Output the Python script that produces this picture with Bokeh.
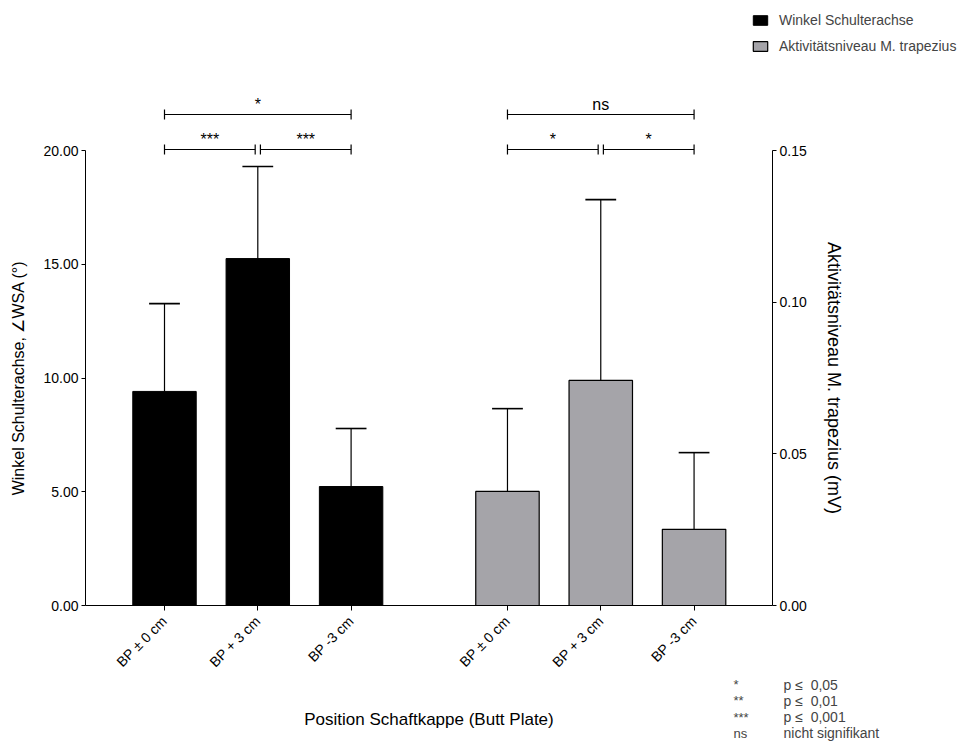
from bokeh.plotting import figure
from bokeh.models import (Range1d, LinearAxis, FixedTicker, NumeralTickFormatter,
                          Legend, LegendItem, Label, ColumnDataSource)
from bokeh.core.properties import value
from bokeh.embed import file_html
from bokeh.resources import INLINE

# ---------------- data ----------------
categories = ["BP \u00b1 0 cm", "BP + 3 cm", "BP -3 cm"]
wsa_mean = [9.41, 15.25, 5.23]          # Winkel Schulterachse (deg)
wsa_sd = [3.86, 4.05, 2.55]
trap_mean = [0.0376, 0.0742, 0.0251]    # Aktivitaetsniveau M. trapezius (mV)
trap_sd = [0.0273, 0.0596, 0.0253]
left_ticks = [0, 5, 10, 15, 20]
right_ticks = [0, 0.05, 0.10, 0.15]
sig_wsa = ["***", "***", "*"]           # (0-1), (1-2), (0-2)
sig_trap = ["*", "*", "ns"]
note_symbols = ["*", "**", "***", "ns"]
note_texts = ["p \u2264\u00a0 0,05", "p \u2264\u00a0 0,01", "p \u2264\u00a0 0,001", "nicht signifikant"]
legend_labels = ["Winkel Schulterachse", "Aktivit\u00e4tsniveau M. trapezius"]

FONT = "Liberation Sans"
n = len(categories)

# ---------------- layout (pixels) ----------------
W, H = 958, 745
PX_X = 93.3          # pixels per x unit
X0_PX = 164          # pixel of first bar centre
PX_Y = 455 / 20.0    # pixels per left-axis unit
Y0_PX = 605          # pixel of y = 0
AX_L_PX, AX_R_PX = 85, 772
LEFT_MAX, RIGHT_MAX = 20.0, 0.15
R_SCALE = RIGHT_MAX / LEFT_MAX


def px_x(px):
    return (px - X0_PX) / PX_X


def px_dy(py):
    return (Y0_PX - py) / PX_Y


GROUP_OFFSET = round(px_x(507), 3)
x1 = [i for i in range(n)]
x2 = [round(i + GROUP_OFFSET, 3) for i in range(n)]

p = figure(width=W, height=H, output_backend="svg", toolbar_location=None,
           x_range=Range1d(px_x(0), px_x(W)),
           y_range=Range1d(px_dy(H), px_dy(0)),
           min_border=0, min_border_left=0, min_border_right=0,
           min_border_top=0, min_border_bottom=0)
p.extra_y_ranges = {"right": Range1d(px_dy(H) * R_SCALE, px_dy(0) * R_SCALE)}
p.outline_line_color = None
p.xgrid.visible = False
p.ygrid.visible = False
p.background_fill_color = "white"
p.border_fill_color = "white"

BW = 0.68
CAP = 0.165
src1 = ColumnDataSource(dict(x=x1, top=wsa_mean,
                             hi=[m + s for m, s in zip(wsa_mean, wsa_sd)]))
src2 = ColumnDataSource(dict(x=x2, top=trap_mean,
                             hi=[m + s for m, s in zip(trap_mean, trap_sd)]))

r1 = p.vbar(x="x", top="top", bottom=0, width=BW, source=src1,
            fill_color="black", line_color="black", line_width=1)
r2 = p.vbar(x="x", top="top", bottom=0, width=BW, source=src2, y_range_name="right",
            fill_color="#a5a4a9", line_color="black", line_width=1.2)

# error bars (upper only)
for src, rng in ((src1, "default"), (src2, "right")):
    d = src.data
    caps = ColumnDataSource(dict(x0=[x - CAP for x in d["x"]], x1=[x + CAP for x in d["x"]], y=d["hi"]))
    p.segment(x0="x", y0="top", x1="x", y1="hi", source=src, line_color="black",
              line_width=1.2, y_range_name=rng)
    p.segment(x0="x0", y0="y", x1="x1", y1="y", source=caps, line_color="black",
              line_width=1.6, y_range_name=rng)

# significance brackets (left-axis units)
lev_low, lev_high = px_dy(149), px_dy(114)
tick_h, gap, txt_off = 5 / PX_Y, 0.028, 10 / PX_Y
for xs, sig in ((x1, sig_wsa), (x2, sig_trap)):
    spans = [(xs[0], xs[1] - gap, lev_low), (xs[1] + gap, xs[2], lev_low), (xs[0], xs[2], lev_high)]
    bx0 = [s[0] for s in spans]
    bx1 = [s[1] for s in spans]
    by = [s[2] for s in spans]
    p.segment(x0=bx0, y0=by, x1=bx1, y1=by, line_color="black", line_width=1.2)
    p.segment(x0=bx0 + bx1, y0=[y - tick_h for y in by] * 2, x1=bx0 + bx1,
              y1=[y + tick_h for y in by] * 2, line_color="black", line_width=1.2)
    p.text(x=[(a + b) / 2 for a, b in zip(bx0, bx1)], y=[y + txt_off for y in by], text=sig,
           text_align="center", text_baseline="alphabetic", text_font=value(FONT),
           text_font_size="16px", text_color="black")

# ---------------- axes (fixed inside the canvas-wide frame) ----------------
xax = p.xaxis[0]
xax.fixed_location = 0
xax.bounds = (px_x(AX_L_PX), px_x(AX_R_PX))
xax.ticker = FixedTicker(ticks=x1 + x2)
xax.major_label_overrides = {x: c for x, c in zip(x1 + x2, categories * 2)}
xax.major_label_orientation = 0.785398
xax.axis_label = "Position Schaftkappe (Butt Plate)"
xax.axis_label_standoff = 31

yax = p.yaxis[0]
yax.fixed_location = px_x(AX_L_PX)
yax.ticker = FixedTicker(ticks=left_ticks)
yax.bounds = (0, LEFT_MAX)
yax.formatter = NumeralTickFormatter(format="0.00")
yax.axis_label = "Winkel Schulterachse, \u2220WSA (\u00b0)"
yax.axis_label_standoff = 13

ax_r = LinearAxis(y_range_name="right", ticker=FixedTicker(ticks=right_ticks),
                  formatter=NumeralTickFormatter(format="0.00"), bounds=(0, RIGHT_MAX),
                  fixed_location=px_x(AX_R_PX),
                  axis_label="Aktivit\u00e4tsniveau M. trapezius (mV)", axis_label_standoff=14)
p.add_layout(ax_r, "right")

for ax in (xax, yax, ax_r):
    ax.axis_line_color = "black"
    ax.axis_line_width = 1
    ax.major_tick_line_color = "black"
    ax.minor_tick_line_color = None
    ax.major_tick_in = 0
    ax.major_tick_out = 4
    ax.major_label_standoff = 3
    ax.major_label_text_font = FONT
    ax.major_label_text_font_size = "14px"
    ax.major_label_text_color = "black"
    ax.axis_label_text_font = FONT
    ax.axis_label_text_font_size = "17px"
    ax.axis_label_text_font_style = "normal"
    ax.axis_label_text_color = "black"
xax.major_tick_out = 5
xax.major_label_standoff = 8
yax.axis_label_text_font_size = "16px"
ax_r.axis_label_text_font_size = "18px"

# ---------------- legend (top right) ----------------
legend = Legend(items=[LegendItem(label=legend_labels[0], renderers=[r1]),
                       LegendItem(label=legend_labels[1], renderers=[r2])],
                location=(751, H - 54), orientation="vertical",
                glyph_width=18, glyph_height=12, label_height=14, spacing=10,
                padding=0, margin=0, label_standoff=10,
                border_line_color=None, background_fill_alpha=0,
                label_text_font=FONT, label_text_font_size="14px")
p.add_layout(legend, "center")

# ---------------- significance notes (bottom right) ----------------
for i, (sym, txt) in enumerate(zip(note_symbols, note_texts)):
    yy = H - (684 + i * 16.3)
    p.add_layout(Label(x=733, y=yy, x_units="screen", y_units="screen", text=sym,
                       text_font=FONT, text_font_size="13px", text_baseline="middle"))
    p.add_layout(Label(x=783, y=yy, x_units="screen", y_units="screen", text=txt,
                       text_font=FONT, text_font_size="14px", text_baseline="middle"))

open("out.html", "w").write(file_html(p, INLINE))
